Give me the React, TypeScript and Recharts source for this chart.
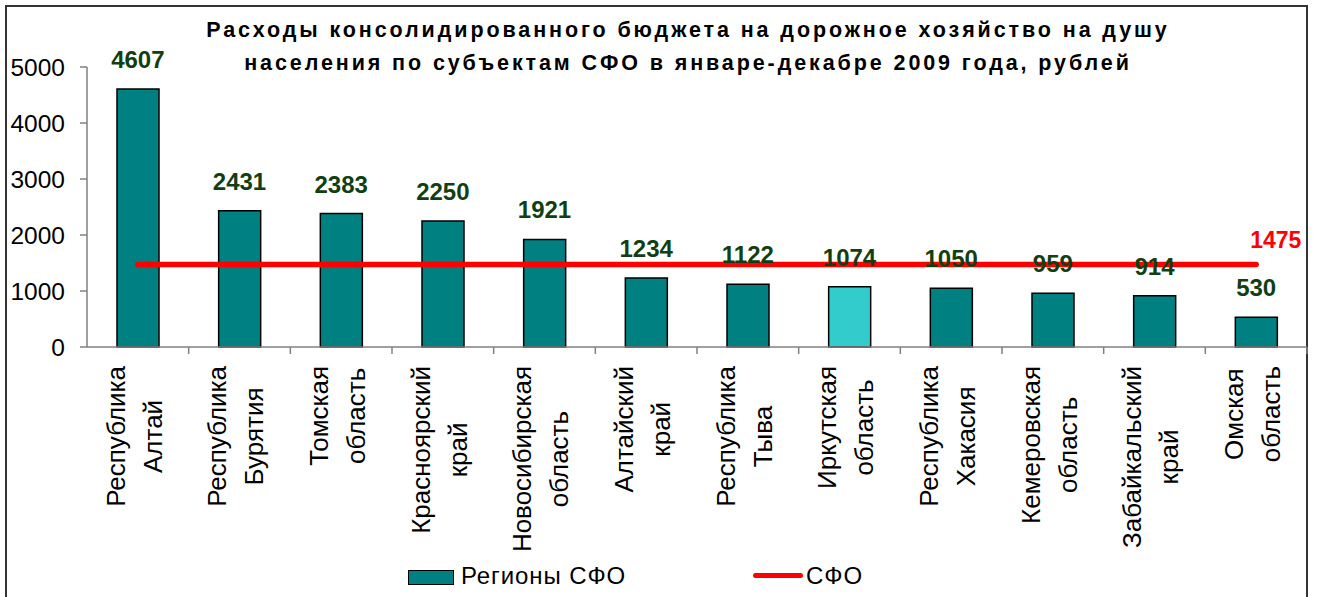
import React from 'react';
import { ComposedChart, Bar, Line, XAxis, YAxis, Cell, LabelList } from 'recharts';

const TITLE_LINES = [
  'Расходы консолидированного бюджета на дорожное хозяйство на душу',
  'населения по субъектам СФО в январе-декабре 2009 года, рублей',
];

const REGIONS = [
  'Республика Алтай',
  'Республика Бурятия',
  'Томская область',
  'Красноярский край',
  'Новосибирская область',
  'Алтайский край',
  'Республика Тыва',
  'Иркутская область',
  'Республика Хакасия',
  'Кемеровская область',
  'Забайкальский край',
  'Омская область',
];

const SPENDING = [4607, 2431, 2383, 2250, 1921, 1234, 1122, 1074, 1050, 959, 914, 530];
const SFO_AVERAGE = 1475;
const HIGHLIGHTED = 'Иркутская область';
const Y_TICKS = [0, 1000, 2000, 3000, 4000, 5000];

const BAR_NAME = 'Регионы СФО';
const LINE_NAME = 'СФО';

const FONT = '"Liberation Sans", Arial, sans-serif';
const TEAL = '#008080';
const CYAN = '#33CCCC';
const LABEL_GREEN = '#123F12';
const AXIS_GRAY = '#808080';

const data = REGIONS.map((name, i) => ({ name, value: SPENDING[i], sfo: SFO_AVERAGE }));

let measureCtx: CanvasRenderingContext2D | null = null;
const textWidth = (s: string, font: string) => {
  if (!measureCtx) measureCtx = document.createElement('canvas').getContext('2d');
  if (!measureCtx) return s.length * 13;
  measureCtx.font = font;
  return measureCtx.measureText(s).width;
};

// two-line vertical category label + tick mark at the right edge of each band
const RegionTick = (props: any) => {
  const { x, y, payload, width } = props;
  const band = width / REGIONS.length;
  const lines = String(payload.value).split(' ');
  const size = 26;
  const longest = Math.max(...lines.map((l) => textWidth(l, `${size}px "Liberation Sans"`)));
  const mid = y + 19 + longest / 2;
  const offsets = lines.length > 1 ? [-13, 24] : [6];
  return (
    <g>
      <line x1={x + band / 2} x2={x + band / 2} y1={y} y2={y + 7} stroke={AXIS_GRAY} strokeWidth={1.5} />
      {lines.map((l, i) => (
        <text
          key={i}
          x={x + offsets[i]}
          y={mid}
          transform={`rotate(-90 ${x + offsets[i]} ${mid})`}
          textAnchor="middle"
          fontSize={size}
          fontFamily={FONT}
          fill="#000"
        >
          {l}
        </text>
      ))}
    </g>
  );
};

const ValueLabel = (props: any) => {
  const { x, y, value } = props;
  return (
    <text x={x} y={y - 21} textAnchor="middle" fontSize={24} fontWeight="bold" fontFamily={FONT} fill={LABEL_GREEN}>
      {value}
    </text>
  );
};

const AverageLabel = (props: any) => {
  const { x, y, value, index } = props;
  if (index !== REGIONS.length - 1) return null;
  return (
    <text x={x - 6} y={y - 16} textAnchor="start" fontSize={23} fontWeight="bold" fontFamily={FONT} fill="#FF0000">
      {value}
    </text>
  );
};

export default function App() {
  return (
    <div style={{ position: 'absolute', left: 0, top: 0, width: 1320, height: 597, overflow: 'hidden', background: '#fff', fontFamily: FONT }}>
      <div style={{ position: 'absolute', left: 5, top: 5, width: 1303, height: 640, border: '2px solid #333', boxSizing: 'border-box' }} />
      <div style={{ position: 'absolute', left: 88, top: 14, width: 1200, textAlign: 'center', fontSize: 21.5, fontWeight: 'bold', lineHeight: '33px', letterSpacing: 2.9, color: '#000' }}>
        {TITLE_LINES.map((t) => (
          <div key={t}>{t}</div>
        ))}
      </div>

      <div style={{ position: 'absolute', left: 0, top: 0 }}>
        <ComposedChart width={1320} height={597} data={data} margin={{ top: 67, right: 13, left: 0, bottom: 0 }}>
          <XAxis
            dataKey="name"
            height={250}
            interval={0}
            tickLine={false}
            tickSize={0}
            tickMargin={0}
            axisLine={{ stroke: AXIS_GRAY, strokeWidth: 1.5 }}
            tick={<RegionTick />}
          />
          <YAxis
            width={87}
            domain={[0, 5000]}
            ticks={Y_TICKS}
            interval={0}
            tickSize={7}
            tickMargin={15}
            axisLine={{ stroke: AXIS_GRAY, strokeWidth: 1.5 }}
            tickLine={{ stroke: AXIS_GRAY, strokeWidth: 1.5 }}
            tick={{ fill: '#000', fontSize: 24.5, fontFamily: FONT }}
          />
          <Bar dataKey="value" name={BAR_NAME} barSize={42} stroke="#000" strokeWidth={1.5} isAnimationActive={false}>
            {data.map((d) => (
              <Cell key={d.name} fill={d.name === HIGHLIGHTED ? CYAN : TEAL} />
            ))}
          </Bar>
          <Line
            dataKey="sfo"
            name={LINE_NAME}
            type="linear"
            stroke="#FF0000"
            strokeWidth={5.5}
            strokeLinecap="round"
            dot={false}
            activeDot={false}
            isAnimationActive={false}
          >
            <LabelList dataKey="sfo" content={<AverageLabel />} />
          </Line>
          {/* invisible series at bar tops so the value labels sit above the red line */}
          <Line dataKey="value" stroke="none" dot={false} activeDot={false} legendType="none" isAnimationActive={false}>
            <LabelList dataKey="value" content={<ValueLabel />} />
          </Line>
        </ComposedChart>
      </div>

      <div style={{ position: 'absolute', left: 408, top: 570, width: 46, height: 15, background: TEAL, border: '1.5px solid #000', boxSizing: 'border-box' }} />
      <div style={{ position: 'absolute', left: 461, top: 562, fontSize: 24, lineHeight: '28px', letterSpacing: 0.9, color: '#000' }}>{BAR_NAME}</div>
      <div style={{ position: 'absolute', left: 753, top: 573, width: 50, height: 5, borderRadius: 3, background: '#FF0000' }} />
      <div style={{ position: 'absolute', left: 806, top: 562, fontSize: 24, lineHeight: '28px', letterSpacing: 1, color: '#000' }}>{LINE_NAME}</div>
    </div>
  );
}
